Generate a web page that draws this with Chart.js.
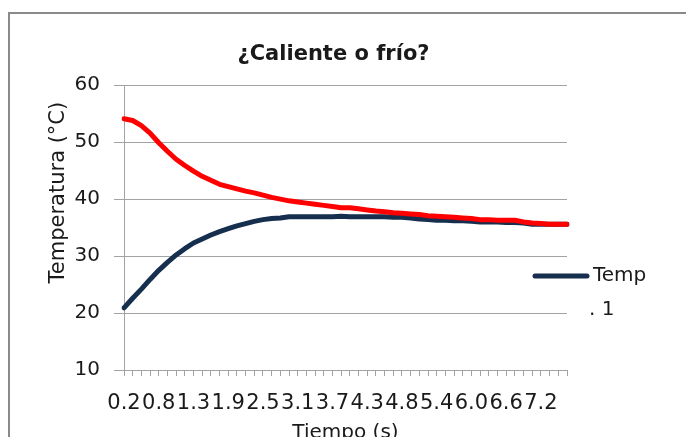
<!DOCTYPE html>
<html><head><meta charset="utf-8">
<script src="https://cdn.jsdelivr.net/npm/chart.js@4"></script>
<style>
html,body{margin:0;padding:0;background:#fff;overflow:hidden;width:686px;height:437px;}
#frame{position:absolute;left:8px;top:12px;width:720px;height:480px;border:2px solid #8a8a8a;box-sizing:border-box;}
#wrap{position:absolute;left:0;top:0;width:700px;height:460px;}
</style></head><body>
<div id="frame"></div>
<div id="wrap"><canvas id="c" width="700" height="460"></canvas></div>
<script>
const chartTitle = '¿Caliente o frío?';
const yTitle = 'Temperatura (°C)';
const xTitle = 'Tiempo (s)';
const timeLabels = ['0.2','0.3','0.5','0.6','0.8','0.9','1.0','1.2','1.3','1.5',
  '1.6','1.8','1.9','2.1','2.2','2.4','2.5','2.6','2.8','2.9',
  '3.1','3.2','3.4','3.5','3.7','3.8','4.0','4.1','4.3','4.4',
  '4.5','4.7','4.8','5.0','5.1','5.3','5.4','5.6','5.7','5.9',
  '6.0','6.1','6.3','6.4','6.6','6.7','6.9','7.0','7.2','7.3',
  '7.5','7.6'];
const temp1 = [20.9,22.6,24.2,25.9,27.5,28.9,30.2,31.3,32.3,33.0,
  33.7,34.3,34.8,35.3,35.7,36.1,36.4,36.6,36.7,36.9,
  36.9,36.9,36.9,36.9,36.9,37.0,36.9,36.9,36.9,36.9,
  36.9,36.8,36.8,36.7,36.5,36.4,36.3,36.3,36.2,36.2,
  36.1,36.0,36.0,36.0,35.9,35.9,35.8,35.6,35.6,35.6,
  35.6,35.6];
const temp2 = [54.1,53.8,52.9,51.6,49.9,48.4,47.0,45.9,44.9,44.0,
  43.3,42.6,42.2,41.8,41.4,41.1,40.7,40.3,40.0,39.7,
  39.5,39.3,39.1,38.9,38.7,38.5,38.5,38.3,38.1,37.9,
  37.8,37.6,37.5,37.4,37.3,37.1,37.0,36.9,36.8,36.7,
  36.6,36.4,36.4,36.3,36.3,36.3,36.0,35.8,35.7,35.6,
  35.6,35.6];
const yTicks = [10,20,30,40,50,60];
const legendLines = ['Temp', '. 1'];

const FONT = 'DejaVu Sans';
const GRID = '#a3a3a3';
const TEXT = '#1a1a1a';

const custom = {
  id: 'custom',
  afterLayout(chart) {
    const t = chart.titleBlock;
    if (t) { t.right = 631; }
    const s = chart.scales.y;
    if (s && !s._shifted) {
      const orig = s.drawTitle;
      s.drawTitle = function () {
        const top = this.top, bottom = this.bottom;
        this.top -= 35; this.bottom -= 35;
        orig.call(this);
        this.top = top; this.bottom = bottom;
      };
      s._shifted = true;
    }
  },
  afterDraw(chart) {
    const ctx = chart.ctx;
    const ds = chart.data.datasets[1];
    ctx.save();
    ctx.strokeStyle = ds.borderColor;
    ctx.lineWidth = 5;
    ctx.lineCap = 'round';
    ctx.beginPath();
    ctx.moveTo(535, 276);
    ctx.lineTo(587, 276);
    ctx.stroke();
    ctx.fillStyle = TEXT;
    ctx.font = '20px "' + FONT + '"';
    ctx.textBaseline = 'middle';
    ctx.textAlign = 'left';
    ctx.fillText(legendLines[0], 593, 276);
    ctx.fillText(legendLines[1], 589, 310);
    ctx.restore();
  }
};

new Chart(document.getElementById('c'), {
  type: 'line',
  data: {
    labels: timeLabels,
    datasets: [
      { label: 'Temp. 2', data: temp2, borderColor: '#ff0000', backgroundColor: '#ff0000',
        borderWidth: 5, pointRadius: 0, tension: 0, borderCapStyle: 'round', borderJoinStyle: 'round' },
      { label: 'Temp. 1', data: temp1, borderColor: '#162f4f', backgroundColor: '#162f4f',
        borderWidth: 5, pointRadius: 0, tension: 0, borderCapStyle: 'round', borderJoinStyle: 'round' }
    ]
  },
  options: {
    responsive: false,
    animation: false,
    events: [],
    layout: { padding: { left: 36, right: 133, top: 20, bottom: 15 } },
    plugins: {
      legend: { display: false },
      tooltip: { enabled: false },
      title: { display: true, text: chartTitle, color: TEXT,
        font: { family: FONT, size: 21, weight: 'bold' },
        padding: { top: 22, bottom: 18 } }
    },
    scales: {
      x: {
        offset: false,
        grid: { display: true, drawOnChartArea: false, drawTicks: true, tickLength: 6, color: GRID },
        border: { display: true, color: GRID, width: 1 },
        ticks: { autoSkip: false, maxRotation: 0, minRotation: 0, padding: 15, color: TEXT,
          font: { family: FONT, size: 21 },
          callback: (v, i) => (i % 4 === 0 ? timeLabels[i] : '') },
        title: { display: true, text: xTitle, color: TEXT, font: { family: FONT, size: 20 }, padding: { top: 0, bottom: 0 } },
        afterFit: (s) => { s.height = 75; }
      },
      y: {
        min: 10, max: 60,
        afterBuildTicks: (s) => { s.ticks = yTicks.map(v => ({ value: v })); },
        grid: { color: GRID, drawTicks: true, tickLength: 10 },
        border: { display: true, color: GRID, width: 1 },
        ticks: { padding: 14, color: TEXT, font: { family: FONT, size: 20 } },
        title: { display: true, text: yTitle, color: TEXT, font: { family: FONT, size: 21 }, padding: { top: 10, bottom: 0 } },
        afterFit: (s) => { s.width = 88; }
      }
    }
  },
  plugins: [custom]
});
</script>
</body></html>
